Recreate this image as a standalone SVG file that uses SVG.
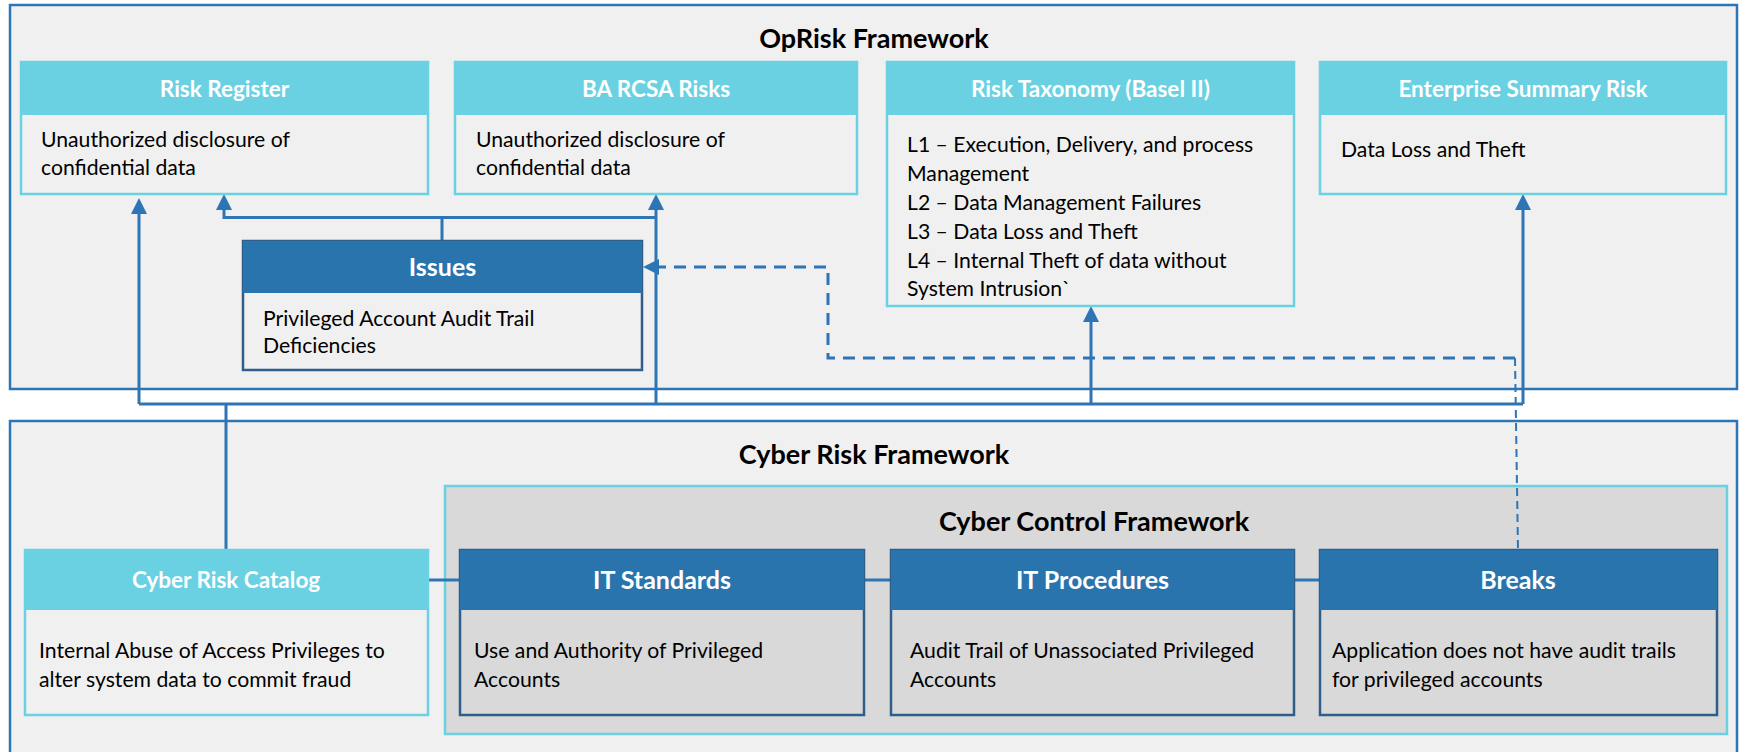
<svg xmlns="http://www.w3.org/2000/svg" width="1739" height="752" viewBox="0 0 1739 752">
<style>
.frame{fill:#F0F0F0;stroke:#2E75B6;stroke-width:2.5}
.ctrl{fill:#D9D9D9;stroke:#6AD1E3;stroke-width:2.5}
.lbody{fill:#F0F0F0;stroke:#6AD1E3;stroke-width:2.5}
.lhead{fill:#6AD1E3}
.dbody{fill:#D9D9D9;stroke:#2E5E89;stroke-width:2.5}
.dbody2{fill:#F0F0F0;stroke:#2E5E89;stroke-width:2.5}
.dhead{fill:#2A74AD}
.ft{font-family:Lato,"Open Sans",sans-serif;font-weight:bold;font-size:27px;fill:#000;text-anchor:middle}
.ht{font-family:Lato,"Open Sans",sans-serif;font-weight:bold;font-size:22.5px;fill:#fff;text-anchor:middle}
.dt{font-family:Lato,"Open Sans",sans-serif;font-weight:bold;font-size:25px;fill:#fff;text-anchor:middle}
.bt{font-family:Lato,"Open Sans",sans-serif;font-size:21.2px;fill:#000}
.c{fill:none;stroke:#2E75B6;stroke-width:3}
.d{fill:none;stroke:#2E75B6;stroke-width:3;stroke-dasharray:12 8}
.d2{fill:none;stroke:#2E75B6;stroke-width:2;stroke-dasharray:8 5}
</style>
<defs>
<marker id="ah" markerUnits="userSpaceOnUse" markerWidth="16" markerHeight="16" refX="3" refY="8" orient="auto">
<path d="M0,0 L16,8 L0,16 z" fill="#2E75B6"/>
</marker>
</defs>
<rect width="1739" height="752" fill="#fff"/>
<g id="oprisk-frame">
<rect class="frame" x="10" y="5" width="1727" height="384"/>
<text class="ft" x="874" y="48">OpRisk Framework</text>
</g>
<g id="cyber-frame">
<rect class="frame" x="10" y="421" width="1727" height="345"/>
<text class="ft" x="874" y="464">Cyber Risk Framework</text>
</g>
<g id="control-frame">
<rect class="ctrl" x="445" y="486" width="1282" height="248"/>
<text class="ft" x="1094" y="531">Cyber Control Framework</text>
</g>
<g id="connectors">
<path class="c" d="M139,404 H1523"/>
<path class="c" d="M139,404 V211" marker-end="url(#ah)"/>
<path class="c" d="M656,404 V207" marker-end="url(#ah)"/>
<path class="c" d="M1091,404 V319" marker-end="url(#ah)"/>
<path class="c" d="M1523,404 V207" marker-end="url(#ah)"/>
<path class="c" d="M226,404 V550"/>
<path class="c" d="M442,241 V217.5 H224 V207" marker-end="url(#ah)"/>
<path class="c" d="M442,217.5 H656"/>
<path class="d" d="M1515,358 H828 V267 H656" marker-end="url(#ah)"/>
<path class="d2" d="M1515,358 L1518,550"/>
<path class="c" d="M428,580 H460"/>
<path class="c" d="M864,580 H891"/>
<path class="c" d="M1294,580 H1320"/>
</g>
<g id="risk-register">
<rect class="lbody" x="21" y="62" width="407" height="132"/>
<rect class="lhead" x="21" y="62" width="407" height="53"/>
<text class="ht" x="224.5" y="97">Risk Register</text>
<text class="bt" x="41" y="147">Unauthorized disclosure of</text>
<text class="bt" x="41" y="175">confidential data</text>
</g>
<g id="ba-rcsa">
<rect class="lbody" x="455" y="62" width="402" height="132"/>
<rect class="lhead" x="455" y="62" width="402" height="53"/>
<text class="ht" x="656" y="97">BA RCSA Risks</text>
<text class="bt" x="476" y="147">Unauthorized disclosure of</text>
<text class="bt" x="476" y="175">confidential data</text>
</g>
<g id="risk-taxonomy">
<rect class="lbody" x="887" y="62" width="407" height="244"/>
<rect class="lhead" x="887" y="62" width="407" height="53"/>
<text class="ht" x="1090.5" y="97">Risk Taxonomy (Basel II)</text>
<text class="bt" x="907" y="152">L1 – Execution, Delivery, and process</text>
<text class="bt" x="907" y="181">Management</text>
<text class="bt" x="907" y="210">L2 – Data Management Failures</text>
<text class="bt" x="907" y="239">L3 – Data Loss and Theft</text>
<text class="bt" x="907" y="268">L4 – Internal Theft of data without</text>
<text class="bt" x="907" y="296">System Intrusion`</text>
</g>
<g id="enterprise-summary">
<rect class="lbody" x="1320" y="62" width="406" height="132"/>
<rect class="lhead" x="1320" y="62" width="406" height="53"/>
<text class="ht" x="1523" y="97">Enterprise Summary Risk</text>
<text class="bt" x="1341" y="157">Data Loss and Theft</text>
</g>
<g id="issues">
<rect class="dbody2" x="243" y="241" width="399" height="129"/>
<rect class="dhead" x="243" y="241" width="399" height="52"/>
<text class="dt" x="442.5" y="276">Issues</text>
<text class="bt" x="263" y="326">Privileged Account Audit Trail</text>
<text class="bt" x="263" y="353">Deficiencies</text>
</g>
<g id="cyber-risk-catalog">
<rect class="lbody" x="25" y="550" width="403" height="165"/>
<rect class="lhead" x="25" y="550" width="403" height="60"/>
<text class="ht" x="226" y="588">Cyber Risk Catalog</text>
<text class="bt" x="39" y="658">Internal Abuse of Access Privileges to</text>
<text class="bt" x="39" y="687">alter system data to commit fraud</text>
</g>
<g id="it-standards">
<rect class="dbody" x="460" y="550" width="404" height="165"/>
<rect class="dhead" x="460" y="550" width="404" height="60"/>
<text class="dt" x="662" y="589">IT Standards</text>
<text class="bt" x="474" y="658">Use and Authority of Privileged</text>
<text class="bt" x="474" y="687">Accounts</text>
</g>
<g id="it-procedures">
<rect class="dbody" x="891" y="550" width="403" height="165"/>
<rect class="dhead" x="891" y="550" width="403" height="60"/>
<text class="dt" x="1092.5" y="589">IT Procedures</text>
<text class="bt" x="910" y="658">Audit Trail of Unassociated Privileged</text>
<text class="bt" x="910" y="687">Accounts</text>
</g>
<g id="breaks">
<rect class="dbody" x="1320" y="550" width="397" height="165"/>
<rect class="dhead" x="1320" y="550" width="397" height="60"/>
<text class="dt" x="1518" y="589">Breaks</text>
<text class="bt" x="1332" y="658">Application does not have audit trails</text>
<text class="bt" x="1332" y="687">for privileged accounts</text>
</g>
</svg>
